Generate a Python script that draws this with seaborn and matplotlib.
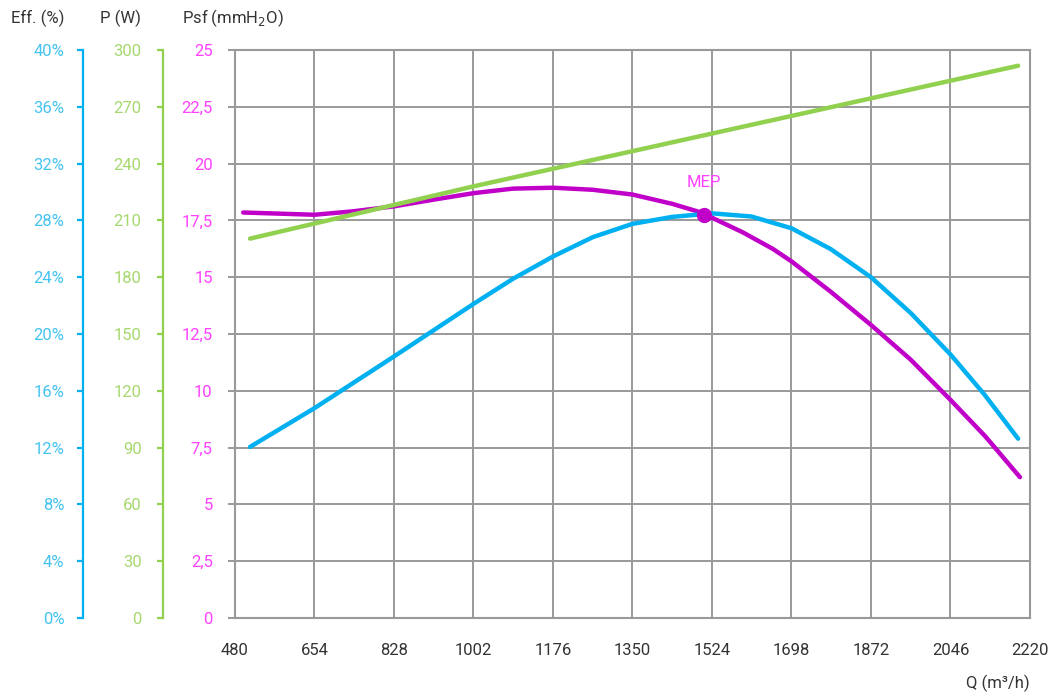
import matplotlib
matplotlib.use("Agg")
import matplotlib.pyplot as plt
import seaborn as sns
import pandas as pd

# Caudal (m3/h) y curvas
q_psf = [498, 654, 738, 828, 913, 1002, 1088, 1176, 1263, 1350, 1437, 1497, 1524,
         1591, 1657, 1698, 1784, 1872, 1959, 2046, 2122, 2198]
psf = [17.85, 17.75, 17.9, 18.12, 18.41, 18.7, 18.9, 18.94, 18.85, 18.64, 18.23, 17.87,
       17.62, 16.98, 16.25, 15.7, 14.36, 12.9, 11.37, 9.6, 8.0, 6.2]

q_eff = [513, 654, 828, 1002, 1088, 1176, 1263, 1350, 1437, 1524, 1610, 1698, 1784,
         1872, 1959, 2046, 2120, 2194]
eff = [12.05, 14.78, 18.42, 22.12, 23.88, 25.46, 26.82, 27.76, 28.25, 28.5, 28.28,
       27.45, 25.98, 24.0, 21.48, 18.56, 15.75, 12.63]

q_pow = [513, 1002, 2194]
power = [200.4, 228.0, 291.7]

mep_q = 1507
mep_psf = 17.75

x_ticks = [480, 654, 828, 1002, 1176, 1350, 1524, 1698, 1872, 2046, 2220]
psf_ticks = [0, 2.5, 5, 7.5, 10, 12.5, 15, 17.5, 20, 22.5, 25]
psf_labels = ["0", "2,5", "5", "7,5", "10", "12,5", "15", "17,5", "20", "22,5", "25"]
eff_ticks = [0, 4, 8, 12, 16, 20, 24, 28, 32, 36, 40]
pow_ticks = [0, 30, 60, 90, 120, 150, 180, 210, 240, 270, 300]

MAG = "#c000c8"
MAG_TXT = "#ff40ff"
BLUE = "#00b0f0"
BLUE_TXT = "#45c3f0"
GREEN = "#92d050"
GREEN_TXT = "#a6d86e"
GRID = "#999999"
TXT = "#333333"

sns.set_style("white")
plt.rcParams["font.family"] = ["Roboto", "DejaVu Sans"]
plt.rcParams["font.size"] = 12

fig = plt.figure(figsize=(10.55, 6.97), dpi=100)
ax = fig.add_axes([0.2227, 0.1133, 0.7536, 0.8149])

df_psf = pd.DataFrame({"q": q_psf, "psf": psf})
df_eff = pd.DataFrame({"q": q_eff, "eff": eff})
df_pow = pd.DataFrame({"q": q_pow, "p": power})

# Presión (eje principal)
sns.lineplot(data=df_psf, x="q", y="psf", ax=ax, color=MAG, lw=3.2,
             solid_capstyle="round", solid_joinstyle="round")
ax.set_xlim(480, 2220)
ax.set_ylim(0, 25)
ax.set_xticks(x_ticks)
ax.set_yticks(psf_ticks)
ax.set_yticklabels(psf_labels)
ax.grid(True, color=GRID, lw=1.4)
ax.set_axisbelow(True)
for s in ax.spines.values():
    s.set_color(GRID)
    s.set_linewidth(1.5)
ax.tick_params(axis="x", colors=GRID, length=5, width=1.4, pad=13, labelcolor=TXT,
               labelsize=12)
ax.tick_params(axis="y", colors=GRID, length=5, width=1.4, pad=11, labelcolor=MAG_TXT,
               labelsize=12)
ax.set_xlabel("")
ax.set_ylabel("")

# Rendimiento
ax_eff = ax.twinx()
sns.lineplot(data=df_eff, x="q", y="eff", ax=ax_eff, color=BLUE, lw=3.2,
             solid_capstyle="round", solid_joinstyle="round")
ax_eff.set_ylim(0, 40)
ax_eff.set_yticks(eff_ticks)
ax_eff.set_yticklabels([f"{t}%" for t in eff_ticks])
ax_eff.yaxis.set_ticks_position("left")
ax_eff.spines["left"].set_position(("axes", -0.191))
for k in ["right", "top", "bottom"]:
    ax_eff.spines[k].set_visible(False)
ax_eff.spines["left"].set_visible(True)
ax_eff.spines["left"].set_color(BLUE)
ax_eff.spines["left"].set_linewidth(1.6)
ax_eff.tick_params(axis="y", colors=BLUE, length=4.5, width=1.6, pad=9,
                   labelcolor=BLUE_TXT, labelsize=12)
ax_eff.set_ylabel("")
ax_eff.grid(False)

# Potencia
ax_p = ax.twinx()
sns.lineplot(data=df_pow, x="q", y="p", ax=ax_p, color=GREEN, lw=3.2,
             solid_capstyle="round")
ax_p.set_ylim(0, 300)
ax_p.set_yticks(pow_ticks)
ax_p.yaxis.set_ticks_position("left")
ax_p.spines["left"].set_position(("axes", -0.0903))
for k in ["right", "top", "bottom"]:
    ax_p.spines[k].set_visible(False)
ax_p.spines["left"].set_visible(True)
ax_p.spines["left"].set_color(GREEN)
ax_p.spines["left"].set_linewidth(1.6)
ax_p.tick_params(axis="y", colors=GREEN, length=4.5, width=1.6, pad=11,
                 labelcolor=GREEN_TXT, labelsize=12)
ax_p.set_ylabel("")
ax_p.grid(False)

# Punto de máxima eficiencia
ax_p.plot([mep_q], [mep_psf], "o", color=MAG, ms=10, transform=ax.transData)
ax.annotate("MEP", (mep_q, mep_psf), xytext=(0, 23), textcoords="offset points",
            ha="center", va="center", color=MAG_TXT, fontsize=12)

# Títulos de ejes
fig.text(38 / 1055, 1 - 18 / 697, "Eff. (%)", ha="center", va="center", color=TXT,
         fontsize=12)
fig.text(120 / 1055, 1 - 18 / 697, "P (W)", ha="center", va="center", color=TXT,
         fontsize=12)
fig.text(233 / 1055, 1 - 18 / 697, "Psf (mmH$_2$O)", ha="center", va="center",
         color=TXT, fontsize=12)
fig.text(998 / 1055, 1 - 683 / 697, "Q (m³/h)", ha="center", va="center", color=TXT,
         fontsize=12)

fig.savefig("out.png", dpi=100)
